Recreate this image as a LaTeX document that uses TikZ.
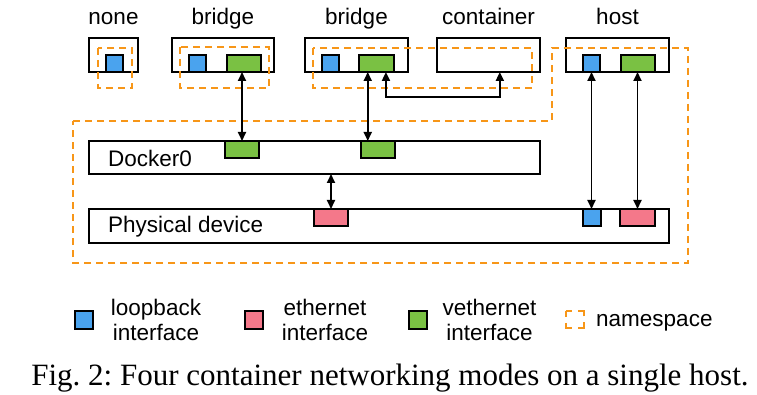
\documentclass[tikz,border=0pt]{standalone}
\usepackage{fontspec}
\setmainfont{Liberation Serif}
\setsansfont{Liberation Sans}
\usetikzlibrary{arrows.meta,calc}
\frenchspacing
\definecolor{lbblue}{RGB}{74,163,238}
\definecolor{vgreen}{RGB}{122,193,67}
\definecolor{ered}{RGB}{244,120,138}
\definecolor{nsorange}{RGB}{247,150,24}
\tikzset{
  box/.style={draw=black, line width=1.5pt, fill=white, inner sep=0pt, outer sep=0pt, anchor=north west},
  lo/.style={box, fill=lbblue, minimum width=17pt, minimum height=17pt},
  ve/.style={box, fill=vgreen, minimum width=34pt, minimum height=17pt},
  eth/.style={box, fill=ered, minimum width=34pt, minimum height=17pt},
  legsq/.style={box, minimum width=18pt, minimum height=18pt},
  nsline/.style={draw=nsorange, line width=1.8pt, dash pattern=on 7pt off 5pt},
  dbl/.style={{Triangle[length=9pt,width=8pt]}-{Triangle[length=9pt,width=8pt]}, line width=1.9pt},
  sfbig/.style={font=\sffamily\fontsize{22.5}{25}\selectfont, inner sep=0pt},
  modelabel/.style={sfbig, anchor=base},
  boxlabel/.style={sfbig, anchor=base west},
  legtext/.style={sfbig, align=center},
}
\begin{document}
\begin{tikzpicture}[x=1pt, y=-1pt]
\useasboundingbox[fill=white] (0,0) rectangle (757,395);

% mode boxes
\node[box, minimum width=49pt,  minimum height=34pt] (none)  at (89,38) {};
\node[box, minimum width=102pt, minimum height=34pt] (brA)   at (172,38) {};
\node[box, minimum width=103pt, minimum height=34pt] (brB)   at (305,38) {};
\node[box, minimum width=103pt, minimum height=34pt] (cont)  at (437,38) {};
\node[box, minimum width=103pt, minimum height=34pt] (host)  at (566,38) {};

% mode labels
\node[modelabel] (lnone) at (none.center |- 0,25) {none};
\node[modelabel] (lbrA)  at (brA.center |- 0,25) {bridge};
\node[modelabel] (lbrB)  at (brB.center |- 0,25) {bridge};
\node[modelabel] (lcont) at (cont.center |- 0,25) {container};
\node[modelabel] (lhost) at (host.center |- 0,25) {host};

% bridge and physical layer
\node[box, minimum width=451pt, minimum height=33pt] (docker) at (89,141) {};
\node[box, minimum width=580pt, minimum height=34pt] (phys)   at (89,209) {};
\node[boxlabel] (ldocker) at (108,167) {Docker0};
\node[boxlabel] (lphys)   at (108,233) {Physical device};

% namespaces
\draw[nsline] (98,48) rectangle (132,88);
\draw[nsline] (180,47) rectangle (269,88);
\draw[nsline] (313,48) rectangle (532,88);
\draw[nsline] (73,121) -- (552,121) -- (552,48) -- (688,48) -- (688,263) -- (73,263) -- cycle;

% interfaces
\node[lo] (noneLo) at (106,55) {};
\node[lo] (brALo)  at (189,55) {};
\node[ve] (brAVe)  at (227,55) {};
\node[lo] (brBLo)  at (322,55) {};
\node[ve, minimum width=35pt] (brBVe) at (359,55) {};
\node[lo] (hostLo) at (583,55) {};
\node[ve] (hostVe) at (621,55) {};
\node[ve] (dVeA)   at (225,141) {};
\node[ve] (dVeB)   at (361,141) {};
\node[eth] (pEthA) at (314,209) {};
\node[lo, minimum width=18pt] (pLo) at (583,209) {};
\node[eth, minimum width=35pt] (pEthB) at (620,209) {};

% links
\draw[dbl] (dVeA.north |- brAVe.south) -- (dVeA.north);
\coordinate (bBl) at ($(brBVe.south west)!0.25!(brBVe.south east)$);
\coordinate (bBr) at ($(brBVe.south west)!0.77!(brBVe.south east)$);
\coordinate (cIn) at ($(cont.south west)!0.61!(cont.south east)$);
\draw[dbl] (bBl) -- (bBl |- docker.north);
\draw[dbl] (bBr) -- ($(bBr)+(0,25)$) -| (cIn);
\draw[dbl] (pEthA.north |- docker.south) -- (pEthA.north);
\draw[dbl] (hostLo.south) -- (hostLo.south |- phys.north);
\draw[dbl] (pEthB.north |- hostVe.south) -- (pEthB.north);

% legend
\node[legsq, fill=lbblue] (kLo)  at (75,311) {};
\node[legtext] (tLo)  at (156,320) {loopback\\interface};
\node[legsq, fill=ered]   (kEth) at (245,311) {};
\node[legtext] (tEth) at (325,320) {ethernet\\interface};
\node[legsq, fill=vgreen] (kVe)  at (409,311) {};
\node[legtext] (tVe)  at (489.5,320) {vethernet\\interface};
\draw[draw=nsorange, line width=1.8pt, dash pattern=on 11.5pt off 6pt, dash phase=5.75pt] (566,311) rectangle (584,328);
\node[sfbig, anchor=base west] (tNs) at (596,326) {namespace};

% caption
\node[font=\rmfamily\fontsize{31}{36}\selectfont, anchor=base, inner sep=0pt] (caption) at (390,385) {Fig. 2: Four container networking modes on a single host.};
\end{tikzpicture}
\end{document}
